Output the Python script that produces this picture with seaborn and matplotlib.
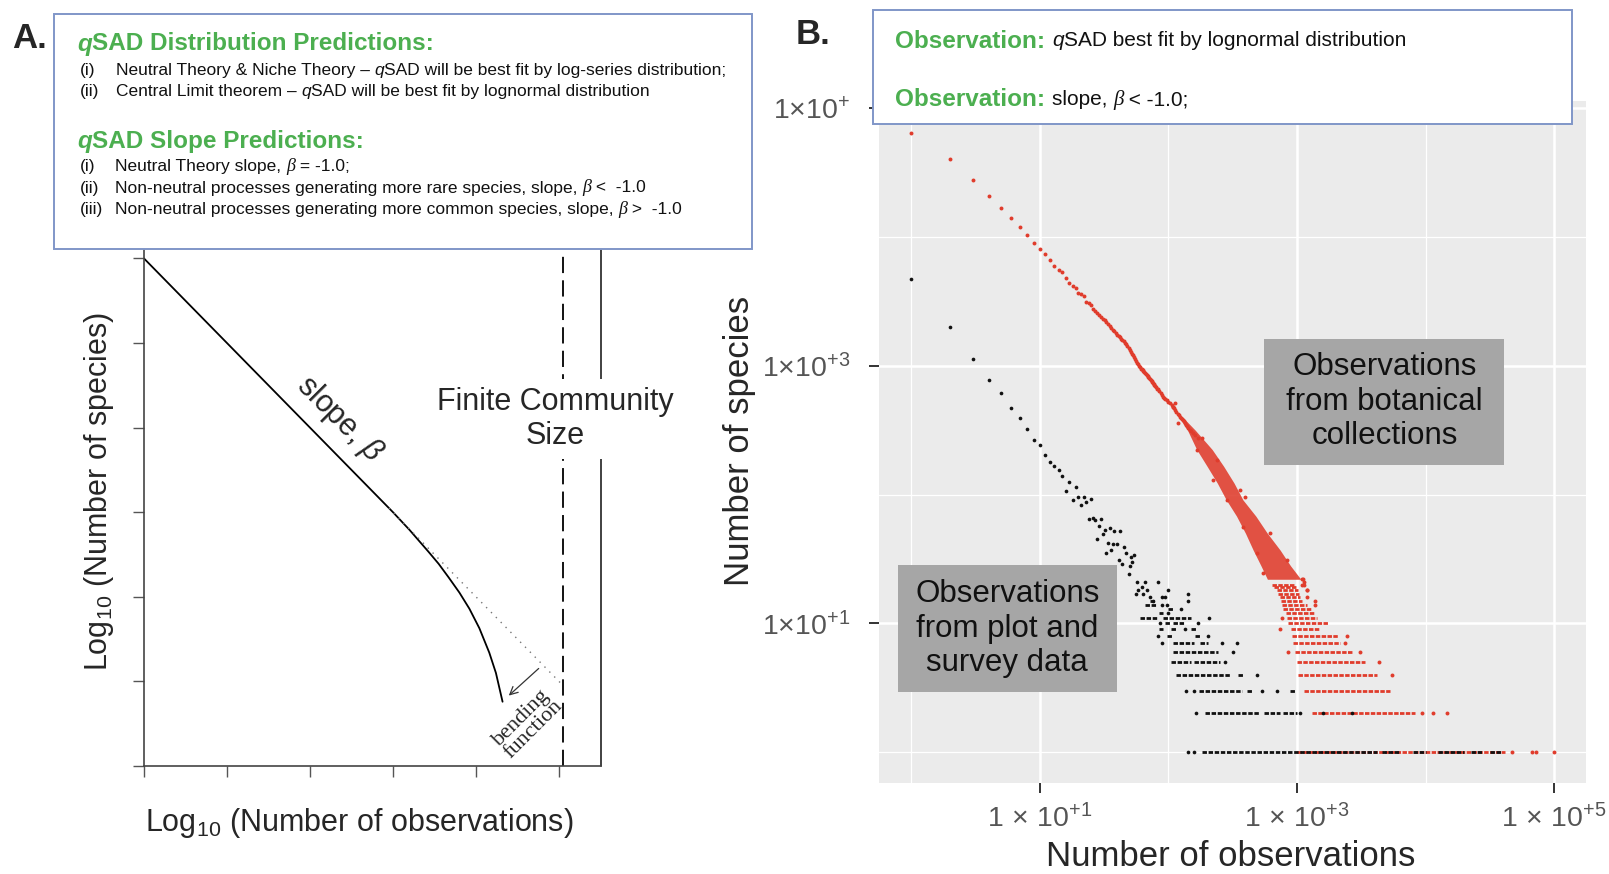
import numpy as np
import pandas as pd
import matplotlib
matplotlib.use("Agg")
import matplotlib.pyplot as plt
import seaborn as sns
from matplotlib.patches import Rectangle
from matplotlib.ticker import NullFormatter, FixedLocator

# ---------------- data: panel A (conceptual diagram, log10 units) ----------------
concept_x = [0.0, 3.0, 3.2, 3.43, 3.55, 3.67, 3.80, 3.92, 4.04, 4.16, 4.24, 4.32]
concept_y = [6.0, 3.0, 2.79, 2.53, 2.39, 2.23, 2.05, 1.86, 1.63, 1.34, 1.10, 0.76]
neutral_x = [2.95, 5.05]
neutral_y = [3.05, 0.95]
community_size_x = 5.05
panel_edge_x = 5.5
a_xticks = [0, 1, 2, 3, 4, 5]
a_yticks = [0, 1, 2, 3, 4, 5, 6]

# ---------------- data: panel B (observations vs species) ----------------
red_obs = [1, 2, 3, 4, 5, 6, 7, 8, 9, 10, 11, 12, 13, 14, 15, 16, 17, 18, 19, 20,
           21, 22, 23, 24, 25, 26, 27, 28, 29, 30, 31, 32, 33, 34, 35, 36, 37, 38, 39, 40,
           42, 44, 46, 49, 52, 54, 57, 60, 63, 66, 70, 73, 76, 80, 85, 91, 95, 103, 110, 115,
           123, 130, 135, 140, 147, 155, 160, 170,
           41, 43, 45, 47, 48, 50, 51, 53, 55, 56, 58, 59, 61, 62, 64, 65, 67, 68, 69, 71,
           72, 74, 75, 77, 78, 79, 82, 83, 87, 89, 93, 97, 100, 106, 108, 113, 118, 120, 126,
           128, 133, 138, 143, 150]
red_species = [64000, 40100, 27900, 20900, 16900, 14100, 12000, 10300, 8990, 8130,
               7350, 6670, 6000, 5550, 5320, 4830, 4380, 4150, 4000, 3660,
               3600, 3510, 3150, 3080, 2970, 2760, 2650, 2580, 2480, 2400,
               2330, 2250, 2200, 2120, 2050, 1960, 1900, 1850, 1790, 1750,
               1680, 1580, 1500, 1370, 1240, 1180, 1050, 980, 930, 875, 820, 770, 731, 690,
               640, 575, 550, 512, 470, 440, 403, 380, 360, 340, 318, 300, 290, 275,
               1720, 1620, 1550, 1480, 1420, 1330, 1290, 1210, 1140, 1100, 1030, 1000, 950,
               945, 905, 890, 860, 845, 830, 800, 785, 760, 745, 720, 705, 700, 665, 655, 615,
               595, 560, 540, 525, 495, 480, 455, 425, 415, 395, 385, 370, 350, 330, 310]
red_edge_obs = [109, 119, 166, 224, 284, 383, 486, 547, 112, 182, 237, 361, 394, 617, 832,
                1120, 1191]
red_edge_species = [482, 358, 222, 130, 91, 56, 35, 24.5, 512, 274, 186, 109, 96, 50, 31,
                    22, 18]
red_single_obs = [46770, 67610, 72440, 100000, 9311, 11480, 14590, 5445, 4365, 857, 3090,
                  2360, 2432, 738, 760, 1380, 1189, 1189, 1089, 1135, 1089, 1135, 1380]
red_single_species = [1, 1, 1, 1, 2, 2, 2, 4, 5, 6, 6, 7, 8, 9, 11, 14, 16, 18, 20, 20, 22, 21, 15]
red_cloud_species = [400, 316, 224, 166, 123, 91, 68, 50, 37, 28, 22]
red_cloud_left = [121, 141, 166, 200, 240, 282, 339, 398, 457, 525, 589]
red_cloud_right = [129, 162, 219, 269, 324, 380, 479, 589, 741, 891, 1072]
red_row_species = [1, 2, 3, 4, 5, 6, 7, 8, 9, 10, 11, 12, 13, 14, 15, 16, 17, 18, 19, 20]
red_row_start = [1000, 1300, 1135, 1026, 995, 966, 925, 910, 893, 857, 841, 822, 783, 760,
                 750, 738, 715, 695, 665, 635]
red_row_end = [41690, 8260, 5284, 4169, 3381, 2742, 2163, 2089, 1510, 1754, 1422, 1380, 1300,
               1189, 1100, 1057, 1040, 1026, 990, 966]

black_obs = [1, 2, 3, 4, 5, 6, 7, 8, 9, 10, 11, 12, 13, 14, 15,
             17, 19, 16, 18, 20, 22, 23, 25, 21, 24, 26, 30, 27, 29, 32, 35, 38, 42, 31, 28,
             34, 37, 40, 45, 33, 36, 47, 51, 54, 41, 44, 52, 50, 49,
             57, 66, 62, 68, 58, 83, 100, 143, 63, 72, 76, 89, 95, 56]
black_species = [4720, 1990, 1130, 780, 612, 473, 391, 324, 265, 243, 203, 178, 168, 155, 139,
                 125, 115, 107, 91, 95, 96, 88, 92, 83, 65, 66, 65, 63, 57, 53, 55, 52, 52, 49, 45,
                 42, 41, 41, 39, 35, 37, 35, 33, 34, 31, 29, 30, 28, 24,
                 21, 21, 19, 18, 18, 21, 18, 17, 17, 16, 15, 16, 16, 17]
black_single_obs = [143, 157, 163, 1057, 1585, 2692, 137, 157, 531, 695, 485, 275, 316, 90, 263,
                    344, 83, 204, 135, 86, 170, 208, 100, 126, 89, 97, 143]
black_single_species = [1, 1, 2, 2, 2, 2, 3, 3, 3, 3, 4, 5, 6, 7, 7, 7, 8, 8, 9, 10, 10, 11, 12,
                        13, 14, 14, 15]
black_row_species = [1, 1, 1, 1, 1, 1, 2, 2, 2, 3, 3, 3, 4, 4, 5, 5, 6, 7, 7, 8, 8, 9, 9, 9,
                     10, 10, 11, 11, 12, 13, 14, 15]
black_row_start = [182, 4571, 7943, 12590, 22390, 31620, 193, 550, 783, 174, 411, 883, 115, 349,
                   104, 158, 109, 109, 176, 97, 161, 85, 104, 151, 94, 109, 60, 91, 85, 100, 66, 72]
black_row_end = [4169, 6310, 10000, 19950, 28180, 38900, 515, 741, 1000, 371, 444, 966, 301, 382,
                 151, 251, 244, 157, 204, 106, 176, 91, 116, 166, 103, 135, 81, 151, 91, 109, 81, 79]

b_major_ticks = [10, 1000, 100000]
b_minor_ticks = [1, 100, 10000]
b_xtick_labels = [r"1$\,\times\,$10$^{+1}$", r"1$\,\times\,$10$^{+3}$", r"1$\,\times\,$10$^{+5}$"]
b_ytick_labels = [r"1$\times$10$^{+1}$", r"1$\times$10$^{+3}$", r"1$\times$10$^{+}$"]

# ---------------- style ----------------
sns.set_theme(style="white")
plt.rcParams['font.family'] = ['Liberation Sans', 'DejaVu Sans']
plt.rcParams['mathtext.fontset'] = 'custom'
plt.rcParams['mathtext.rm'] = 'Liberation Sans'
plt.rcParams['mathtext.it'] = 'Liberation Sans:italic'
plt.rcParams['mathtext.bf'] = 'Liberation Sans:bold'

GREEN = "#4CAF50"
RED = "#E03C2C"
BLACK = "#111111"
BOXEDGE = "#8096C8"

W, H = 1609, 874
fig = plt.figure(figsize=(W / 100, H / 100), dpi=100)


def fx(x):
    return x / W


def fy(y):
    return 1 - y / H


renderer = fig.canvas.get_renderer()


def runs(x, y, parts, va="center"):
    """Place text runs one after another (x, y in pixel coordinates from top-left)."""
    cx = x
    for txt, kw in parts:
        t = fig.text(fx(cx), fy(y), txt, va=va, ha="left", zorder=20, **kw)
        bb = t.get_window_extent(renderer=renderer)
        cx += bb.width


# ---------------- panel A ----------------
axA = fig.add_axes([fx(144), fy(766), fx(600.5) - fx(144), fy(250) - fy(766)])
axA.set_xlim(0, 5.5)
axA.set_ylim(0, 6.1)
sns.lineplot(x=concept_x, y=concept_y, ax=axA, color="black", lw=1.3, sort=False,
             estimator=None)
axA.plot(neutral_x, neutral_y, color="#777777", lw=1.0, ls=(0, (1, 4)))
axA.axvline(community_size_x, color="black", lw=1.3, ls=(0, (9, 4)), clip_on=False)
axA.axvline(panel_edge_x, color="#333333", lw=1.3, clip_on=False)
for s in ["top", "right"]:
    axA.spines[s].set_visible(False)
for s in ["left", "bottom"]:
    axA.spines[s].set_color("#444444")
    axA.spines[s].set_linewidth(1.2)
axA.set_xticks(a_xticks)
axA.set_yticks(a_yticks)
axA.set_xticklabels([])
axA.set_yticklabels([])
axA.tick_params(axis="both", direction="out", length=8, width=1, color="#555555",
                bottom=True, left=True)
axA.text(2.35, 4.10, r"slope, $\beta$", rotation=-45, ha="center", va="center",
         fontsize=22, rotation_mode="anchor")
axA.text(4.95, 4.1, "Finite Community\nSize", ha="center", va="center", fontsize=22,
         linespacing=1.15, zorder=10,
         bbox=dict(facecolor="white", edgecolor="none", pad=6))
axA.annotate("", xy=(4.37, 0.81), xytext=(4.78, 1.175),
             arrowprops=dict(arrowstyle="->", color="#333333", lw=0.9, mutation_scale=14))
axA.text(4.62, 0.50, "bending\nfunction", rotation=45, ha="center", va="center",
         fontsize=16, family="Liberation Serif", linespacing=0.9, rotation_mode="anchor")

fig.text(fx(99), fy(491), r"Log$_{10}$ (Number of species)", rotation=90, ha="center",
         va="center", fontsize=22)
fig.text(fx(359), fy(823), r"Log$_{10}$ (Number of observations)", ha="center",
         va="center", fontsize=22)

# ---------------- panel B ----------------
axB = fig.add_axes([fx(879), fy(783), fx(1586.3) - fx(879), fy(100.6) - fy(783)])
axB.set_facecolor("#EBEBEB")
axB.set_xscale("log")
axB.set_yscale("log")
axB.set_xlim(10 ** -0.25, 10 ** 5.25)
axB.set_ylim(10 ** -0.24, 10 ** 5.06)
axB.set_axisbelow(True)

axB.fill_betweenx(red_cloud_species, red_cloud_left, red_cloud_right, color=RED, lw=0,
                  alpha=0.88, zorder=2)
axB.hlines(red_row_species, red_row_start, red_row_end, color=RED, lw=2.0,
           linestyles=[(0, (1.6, 0.5))], zorder=2)
red_df = pd.DataFrame({"obs": red_obs + red_edge_obs + red_single_obs,
                       "species": red_species + red_edge_species + red_single_species})
sns.scatterplot(data=red_df, x="obs", y="species", ax=axB, color=RED, s=8, linewidth=0,
                zorder=3)
axB.hlines(black_row_species, black_row_start, black_row_end, color=BLACK, lw=2.0,
           linestyles=[(0, (1.6, 0.6))], zorder=4)
black_df = pd.DataFrame({"obs": black_obs + black_single_obs,
                         "species": black_species + black_single_species})
sns.scatterplot(data=black_df, x="obs", y="species", ax=axB, color=BLACK, s=7, linewidth=0,
                zorder=5)

axB.xaxis.set_major_locator(FixedLocator(b_major_ticks))
axB.yaxis.set_major_locator(FixedLocator(b_major_ticks))
axB.xaxis.set_minor_locator(FixedLocator(b_minor_ticks))
axB.yaxis.set_minor_locator(FixedLocator(b_minor_ticks))
axB.set_xticklabels(b_xtick_labels)
axB.set_yticklabels(b_ytick_labels)
axB.xaxis.set_minor_formatter(NullFormatter())
axB.yaxis.set_minor_formatter(NullFormatter())
axB.grid(which="major", color="white", lw=1.8)
axB.grid(which="minor", color="white", lw=0.9)
for s in axB.spines.values():
    s.set_visible(False)
axB.tick_params(which="major", length=7, width=1.4, color="#333333", labelcolor="#555555",
                labelsize=20.5, bottom=True, left=True)
axB.tick_params(axis="x", which="major", pad=8)
axB.tick_params(axis="y", which="major", pad=14)
axB.tick_params(which="minor", length=0)
axB.set_xlabel("")
axB.set_ylabel("")

fig.text(fx(739), fy(441), "Number of species", rotation=90, ha="center", va="center",
         fontsize=25)
fig.text(fx(1231), fy(857), "Number of observations", ha="center", va="center", fontsize=25)

# gray annotation boxes
for (x0, y0, x1, y1, label) in [
        (1264.3, 338.7, 1504.4, 464.9, "Observations\nfrom botanical\ncollections"),
        (898.0, 565.4, 1116.5, 691.7, "Observations\nfrom plot and\nsurvey data")]:
    fig.add_artist(Rectangle((fx(x0), fy(y1)), fx(x1) - fx(x0), fy(y0) - fy(y1),
                             transform=fig.transFigure, facecolor="#A6A6A6",
                             edgecolor="none", zorder=15))
    fig.text(fx((x0 + x1) / 2), fy((y0 + y1) / 2), label, ha="center", va="center",
             fontsize=22.5, linespacing=1.2, color="#111111", zorder=16)

# ---------------- top boxes ----------------
fig.add_artist(Rectangle((fx(54.4), fy(249.4)), fx(752) - fx(54.4), fy(14.4) - fy(249.4),
                         transform=fig.transFigure, facecolor="white", edgecolor=BOXEDGE,
                         lw=1.4, zorder=18))
fig.add_artist(Rectangle((fx(873.3), fy(124.2)), fx(1572.1) - fx(873.3), fy(10.3) - fy(124.2),
                         transform=fig.transFigure, facecolor="white", edgecolor=BOXEDGE,
                         lw=1.4, zorder=18))

fig.text(fx(30), fy(38), "A.", ha="center", va="center", fontsize=25, weight="bold", zorder=20)
fig.text(fx(813), fy(35), "B.", ha="center", va="center", fontsize=25, weight="bold", zorder=20)

HB = dict(color=GREEN, weight="bold", fontsize=17.5)
HBI = dict(color=GREEN, weight="bold", style="italic", fontsize=17.5)
BT = dict(fontsize=12.5, color="#111111")
BI = dict(fontsize=12.5, color="#111111", style="italic")
BB = dict(fontsize=13, color="#111111", style="italic", family="Liberation Serif")

runs(77, 44, [("q", HBI), ("SAD Distribution Predictions:", HB)])
fig.text(fx(80), fy(70), "(i)", va="center", zorder=20, **BT)
runs(116, 70, [("Neutral Theory & Niche Theory \u2013 ", BT), ("q", BI),
               ("SAD will be best fit by log-series distribution;", BT)])
fig.text(fx(80), fy(91.5), "(ii)", va="center", zorder=20, **BT)
runs(116, 91.5, [("Central Limit theorem \u2013 ", BT), ("q", BI),
                 ("SAD will be best fit by lognormal distribution", BT)])
runs(77, 141.5, [("q", HBI), ("SAD Slope Predictions:", HB)])
fig.text(fx(80), fy(166.5), "(i)", va="center", zorder=20, **BT)
runs(115, 166.5, [("Neutral Theory slope, ", BT), ("\u03b2", BB), (" = -1.0;", BT)])
fig.text(fx(80), fy(188), "(ii)", va="center", zorder=20, **BT)
runs(115, 188, [("Non-neutral processes generating more rare species, slope, ", BT),
                ("\u03b2", BB), (" <  -1.0", BT)])
fig.text(fx(80), fy(209.5), "(iii)", va="center", zorder=20, **BT)
runs(115, 209.5, [("Non-neutral processes generating more common species, slope, ", BT),
                  ("\u03b2", BB), (" >  -1.0", BT)])

OB = dict(color=GREEN, weight="bold", fontsize=17.5)
OT = dict(fontsize=15, color="#111111")
OI = dict(fontsize=15, color="#111111", style="italic")
OBeta = dict(fontsize=15, color="#111111", style="italic", family="Liberation Serif")
runs(895, 41, [("Observation: ", OB), ("q", OI), ("SAD best fit by lognormal distribution", OT)])
runs(895, 99.5, [("Observation: ", OB), ("slope, ", OT), ("\u03b2", OBeta), (" < -1.0;", OT)])

fig.savefig("out.png", dpi=100)
